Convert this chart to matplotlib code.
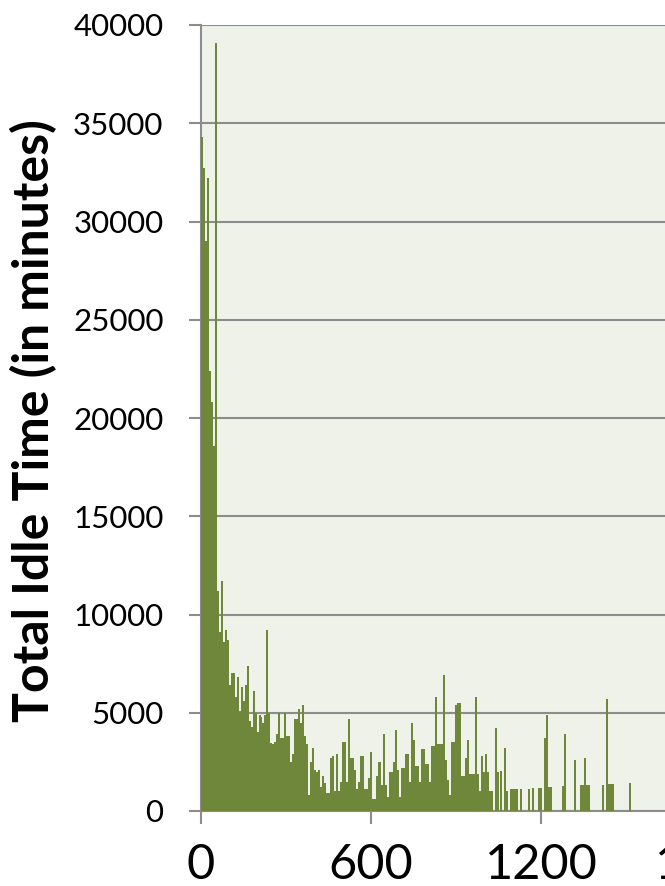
import matplotlib.pyplot as plt
import numpy as np

# total idle time per idle-duration bin (minutes); bins are 7 minutes wide
bin_width = 7
idle_total = [
    34300, 32700, 29000, 32200, 22400, 20800, 18600, 39100, 11200, 9100,
    11700, 8600, 9200, 8700, 6400, 7000, 7000, 5800, 6800, 5100,
    6300, 5600, 6400, 7400, 4600, 4300, 6100, 5000, 4000, 4900,
    4800, 4500, 4900, 9200, 5000, 3450, 3400, 3500, 3900, 5000,
    3700, 3700, 5000, 3800, 3800, 2500, 2900, 4700, 4700, 5200,
    4500, 5400, 3800, 3400, 800, 2500, 3200, 2100, 2000, 2100,
    1200, 1800, 1400, 900, 900, 2700, 2800, 1000, 2900, 1000,
    1500, 3500, 3500, 1500, 4700, 2700, 2700, 2100, 1100, 1500,
    2800, 2800, 1100, 1100, 1700, 3000, 600, 600, 1800, 2500,
    2500, 1300, 3900, 1300, 700, 2000, 2000, 2500, 4100, 2100,
    700, 2200, 2200, 2900, 2900, 1500, 4500, 3600, 2300, 2300,
    1500, 3150, 3150, 2400, 2400, 1500, 3300, 3300, 5800, 3400,
    3400, 3400, 6900, 2600, 1600, 800, 3500, 3500, 5400, 5500,
    5500, 1800, 1800, 2700, 3600, 1900, 1900, 1900, 5800, 1900,
    1000, 2800, 2000, 2900, 2000, 1000, 1000, 0, 4200, 2000,
    0, 2050, 0, 3200, 1000, 0, 1100, 1100, 1100, 1100,
    0, 1100, 0, 0, 0, 1100, 0, 1150, 0, 0,
    1150, 1150, 0, 3700, 4900, 1200, 1200, 0, 0, 0,
    0, 0, 1250, 3900, 0, 0, 0, 0, 2600, 0,
    0, 1300, 1300, 2700, 1300, 1300, 0, 0, 0, 0,
    0, 0, 1300, 0, 5700, 1350, 1350, 1350, 0, 0,
    0, 0, 0, 0, 0, 0, 1450,
]
x_ticks = [0, 600, 1200, 1800]
y_ticks = [0, 5000, 10000, 15000, 20000, 25000, 30000, 35000, 40000]

plt.rcParams['font.family'] = ['Lato', 'DejaVu Sans']

fig = plt.figure(figsize=(6.65, 8.86), dpi=100)
ax = fig.add_axes([201 / 665, 75 / 886, 680 / 665, 786 / 886])
ax.set_facecolor('#EFF2E8')

starts = np.arange(len(idle_total)) * bin_width
ax.bar(starts, idle_total, width=bin_width, align='edge',
       color='#6F873B', linewidth=0, zorder=3)

ax.set_xlim(0, 2400)
ax.set_ylim(0, 40000)
ax.set_xticks(x_ticks)
ax.set_yticks(y_ticks)
ax.grid(axis='y', color='#8C8C8C', linewidth=1.5, zorder=0)
ax.set_axisbelow(True)

for s in ['top', 'right']:
    ax.spines[s].set_visible(False)
for s in ['left', 'bottom']:
    ax.spines[s].set_color('#8C8C8C')
    ax.spines[s].set_linewidth(1.5)

ax.tick_params(axis='y', length=9, width=1.5, color='#8C8C8C',
               labelsize=22.5, pad=18)
ax.tick_params(axis='x', length=9, width=1.5, color='#8C8C8C',
               labelsize=35, pad=14)

ax.set_ylabel('Total Idle Time (in minutes)', fontsize=36, fontweight='bold')
ax.yaxis.set_label_coords(-0.212, 0.497)

fig.savefig('out.png', dpi=100)
